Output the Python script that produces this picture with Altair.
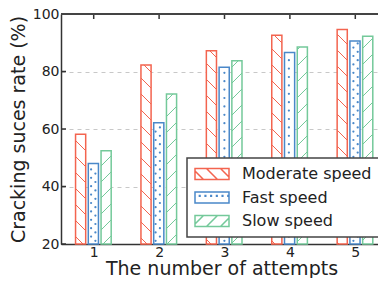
import altair as alt
import pandas as pd
import numpy as np

# ---- data ----
attempts = [1, 2, 3, 4, 5]
series = ["Moderate speed", "Fast speed", "Slow speed"]
moderate = [58.2, 82.3, 87.2, 92.6, 94.6]
fast = [48.0, 62.2, 81.5, 86.6, 90.6]
slow = [52.4, 72.2, 83.7, 88.5, 92.3]
y_ticks = [20, 40, 60, 80, 100]
colors = ["#F3644F", "#4A88C9", "#74C99A"]

# ---- geometry / style ----
PX = 65.4            # pixels per attempt
W, H = 317, 230
X0 = 0.5
X1 = X0 + W / PX
Y0, Y1 = 20, 100
PY = H / (Y1 - Y0)
offsets = [-0.2, -0.005, 0.19]
BW = 0.155
FONT = "DejaVu Sans"

values = {"Moderate speed": moderate, "Fast speed": fast, "Slow speed": slow}
col_of = dict(zip(series, colors))

bars = []
for s, off in zip(series, offsets):
    for a, v in zip(attempts, values[s]):
        bars.append({"series": s, "col": col_of[s],
                     "x": a + off - BW / 2, "x2": a + off + BW / 2,
                     "y": Y0, "y2": v})
bars = pd.DataFrame(bars)


def to_px(x, y):
    return (x - X0) * PX, (Y1 - y) * PY


def to_data(xp, yp):
    return X0 + xp / PX, Y1 - yp / PY


def clip_lines(xl, xr, yt, yb, slope, spacing):
    """45-degree hatch lines (pixel space) clipped to a rectangle."""
    segs = []
    if slope > 0:
        cmin, cmax = yt - xr, yb - xl
    else:
        cmin, cmax = yt + xl, yb + xr
    k0 = int(np.floor(cmin / spacing))
    k1 = int(np.ceil(cmax / spacing))
    for k in range(k0, k1 + 1):
        c = k * spacing
        if slope > 0:
            a, b = max(xl, yt - c), min(xr, yb - c)
            if b - a > 0.5:
                segs.append((a, a + c, b, b + c))
        else:
            a, b = max(xl, c - yb), min(xr, c - yt)
            if b - a > 0.5:
                segs.append((a, c - a, b, c - b))
    return segs


hatch = []
dots = []
for _, r in bars.iterrows():
    xl, yb = to_px(r["x"], r["y"])
    xr, yt = to_px(r["x2"], r["y2"])
    if r["series"] == "Fast speed":
        j0 = int(np.ceil((yt + 2) / 4.2))
        j1 = int(np.floor((yb - 1) / 4.2))
        for j in range(j0, j1 + 1):
            yp = j * 4.2
            for k in range(-1, 60):
                xp = k * 8.6 + (j % 2) * 4.3
                if xl + 1.8 <= xp <= xr - 1.8:
                    dx, dy = to_data(xp, yp)
                    dots.append({"col": r["col"], "x": dx, "y": dy})
    else:
        slope = 1 if r["series"] == "Moderate speed" else -1
        for (ax, ay, bx, by) in clip_lines(xl, xr, yt, yb, slope, 16):
            dx1, dy1 = to_data(ax, ay)
            dx2, dy2 = to_data(bx, by)
            hatch.append({"col": r["col"], "x": dx1, "y": dy1,
                          "x2": dx2, "y2": dy2})
hatch = pd.DataFrame(hatch)
dots = pd.DataFrame(dots)

# ---- legend symbol paths (units: 8 px) ----
U = 8.0
hw, hh = 17.0, 5.5


def rect_path():
    return f"M{-hw/U:.3f},{-hh/U:.3f}H{hw/U:.3f}V{hh/U:.3f}H{-hw/U:.3f}Z"


def hatch_path(slope):
    p = rect_path()
    for (ax, ay, bx, by) in clip_lines(-hw, hw, -hh, hh, slope, 14):
        p += f"M{ax/U:.3f},{ay/U:.3f}L{bx/U:.3f},{by/U:.3f}"
    return p


def dot_path():
    p = rect_path()
    yv = -hh + 3.5
    for i in range(6):
        xv = -hw + 4.4 + i * 5.7
        p += f"M{xv/U:.3f},{yv/U:.3f}h0.08v0.08h-0.08Z"
    return p


shapes = [hatch_path(1), dot_path(), hatch_path(-1)]

xs = alt.Scale(domain=[X0, X1], nice=False, zero=False)
ys = alt.Scale(domain=[Y0, Y1], nice=False, zero=False)

x_axis = alt.Axis(values=attempts, format="d", grid=False, tickSize=0,
                  labelBaseline="middle", labelPadding=8,
                  title="The number of attempts",
                  titleBaseline="alphabetic", titleY=30.5, titleX=W / 2 + 2)
y_axis = alt.Axis(values=y_ticks, grid=True, tickSize=0, labelPadding=2,
                  title="Cracking suces rate (%)", titlePadding=4,
                  gridDash=[4, 4], gridColor="#c8c8c8", gridWidth=1)

base_fill = alt.Chart(bars).mark_rect(fill="white", strokeWidth=0).encode(
    x=alt.X("x:Q", scale=xs, axis=x_axis),
    x2="x2:Q",
    y=alt.Y("y:Q", scale=ys, axis=y_axis),
    y2="y2:Q",
)

hatch_layer = alt.Chart(hatch).mark_rule(strokeWidth=1).encode(
    x="x:Q", x2="x2:Q", y="y:Q", y2="y2:Q",
    color=alt.Color("col:N", scale=None),
)

dot_layer = alt.Chart(dots).mark_circle(size=5, opacity=1).encode(
    x="x:Q", y="y:Q",
    color=alt.Color("col:N", scale=None),
)

outline = alt.Chart(bars).mark_rect(fill=None, fillOpacity=0, strokeWidth=1.5).encode(
    x="x:Q", x2="x2:Q", y="y:Q", y2="y2:Q",
    stroke=alt.Stroke("col:N", scale=None),
)

leg_df = pd.DataFrame({"series": series, "x": [1, 1, 1], "y": [50, 50, 50]})
legend_layer = alt.Chart(leg_df).mark_point(opacity=0, filled=False).encode(
    x="x:Q", y="y:Q",
    color=alt.Color("series:N", scale=alt.Scale(domain=series, range=colors),
                    title=None,
                    legend=alt.Legend(orient="none", legendX=126, legendY=144)),
    shape=alt.Shape("series:N", scale=alt.Scale(domain=series, range=shapes),
                    title=None),
)

tick_df = pd.DataFrame({"a": attempts})
top_ticks = alt.Chart(tick_df).mark_rule(color="#333", strokeWidth=1.5).encode(
    x="a:Q", y=alt.value(0), y2=alt.value(5))
ytick_df = pd.DataFrame({"v": y_ticks})
left_ticks = alt.Chart(ytick_df).mark_rule(color="#333", strokeWidth=1.5).encode(
    y="v:Q", x=alt.value(0), x2=alt.value(5))
top_border = alt.Chart(tick_df).mark_rule(color="#444", strokeWidth=1.5).encode(
    x=alt.value(0), x2=alt.value(W), y=alt.value(0))

chart = alt.layer(base_fill, hatch_layer, dot_layer, outline, legend_layer,
                  top_ticks, left_ticks, top_border).properties(
    width=W, height=H,
    autosize=alt.AutoSizeParams(type="none"),
    padding={"left": 53, "top": 6, "right": 0, "bottom": 34},
).configure_view(strokeWidth=0).configure_axis(
    labelFont=FONT, titleFont=FONT, labelFontSize=14, titleFontSize=19,
    titleFontWeight="normal", labelColor="#222", titleColor="#222",
    domainColor="#333", domainWidth=1.5,
).configure_legend(
    padding=7, strokeColor="#444", strokeWidth=1.5, fillColor="white",
    cornerRadius=0, symbolSize=256, symbolStrokeWidth=1.5, symbolOpacity=1,
    symbolFillColor="white", labelFont=FONT, labelFontSize=16,
    labelColor="#222", rowPadding=5.5, symbolOffset=9, labelOffset=21,
)

chart.save("out.html", embed_options={"renderer": "svg", "actions": False})
